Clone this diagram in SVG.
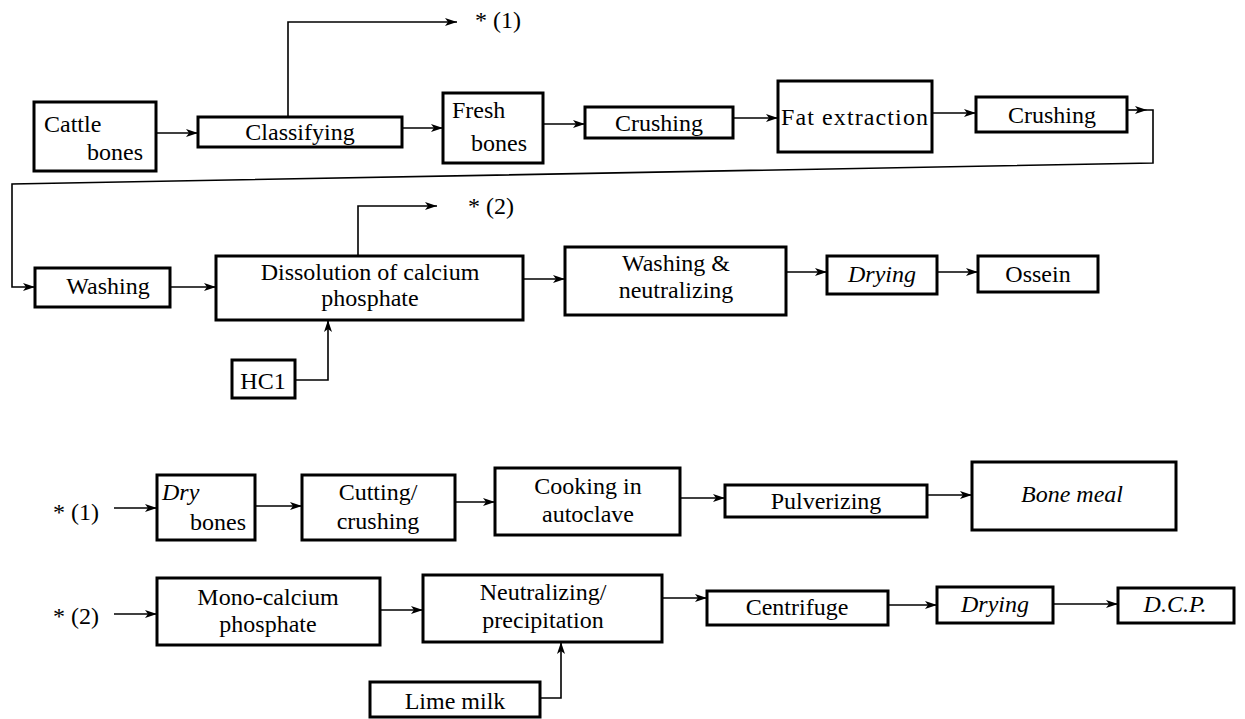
<svg xmlns="http://www.w3.org/2000/svg" width="1245" height="719" viewBox="0 0 1245 719" font-family="Liberation Serif, DejaVu Serif, serif">
<defs>
<marker id="arr" markerUnits="userSpaceOnUse" markerWidth="12" markerHeight="8" refX="12" refY="4" orient="auto">
<path d="M0,0 L12,4 L0,8 L3,4 z" fill="#000"/>
</marker>
<style>
.box{fill:#fff;stroke:#000;stroke-width:3}
.t{font-size:24px;fill:#000}
.c{text-anchor:middle}
.i{font-style:italic}
.ln{fill:none;stroke:#000;stroke-width:1.6}
</style>
</defs>
<rect width="1245" height="719" fill="#fff"/>
<g id="connectors">
<path class="ln" d="M156,133 H198" marker-end="url(#arr)"/>
<path class="ln" d="M288,117 V22 H457" marker-end="url(#arr)"/>
<path class="ln" d="M402,128 H443" marker-end="url(#arr)"/>
<path class="ln" d="M543,124 H585" marker-end="url(#arr)"/>
<path class="ln" d="M733,118 H778" marker-end="url(#arr)"/>
<path class="ln" d="M932,113 H976" marker-end="url(#arr)"/>
<path class="ln" d="M1127,110 H1147" marker-end="url(#arr)"/>
<path class="ln" d="M1147,110 H1153 V163 L12,184 V287 H35" marker-end="url(#arr)"/>
<path class="ln" d="M170,287 H216" marker-end="url(#arr)"/>
<path class="ln" d="M358,256 V206 H437" marker-end="url(#arr)"/>
<path class="ln" d="M295,380 H328 V320" marker-end="url(#arr)"/>
<path class="ln" d="M523,279 H565" marker-end="url(#arr)"/>
<path class="ln" d="M786,272 H827" marker-end="url(#arr)"/>
<path class="ln" d="M937,272 H978" marker-end="url(#arr)"/>
<path class="ln" d="M114,508 H157" marker-end="url(#arr)"/>
<path class="ln" d="M255,506 H302" marker-end="url(#arr)"/>
<path class="ln" d="M455,502 H495" marker-end="url(#arr)"/>
<path class="ln" d="M680,498 H725" marker-end="url(#arr)"/>
<path class="ln" d="M927,495 H972" marker-end="url(#arr)"/>
<path class="ln" d="M114,614 H157" marker-end="url(#arr)"/>
<path class="ln" d="M380,610 H423" marker-end="url(#arr)"/>
<path class="ln" d="M662,598 H707" marker-end="url(#arr)"/>
<path class="ln" d="M888,605 H937" marker-end="url(#arr)"/>
<path class="ln" d="M1053,604 H1118" marker-end="url(#arr)"/>
<path class="ln" d="M540,698 H561 V642" marker-end="url(#arr)"/>
</g>
<g id="ref1a"><text class="t" x="475" y="28">* (1)</text></g>
<g id="ref2a"><text class="t" x="468" y="214">* (2)</text></g>
<g id="ref1b"><text class="t" x="53" y="520">* (1)</text></g>
<g id="ref2b"><text class="t" x="53" y="624">* (2)</text></g>
<g id="cattle"><rect class="box" x="34" y="102" width="122" height="69"/><text class="t" x="44" y="132">Cattle</text><text class="t" x="87" y="160">bones</text></g>
<g id="classifying"><rect class="box" x="198" y="117" width="204" height="30"/><text class="t c" x="300" y="140">Classifying</text></g>
<g id="fresh"><rect class="box" x="443" y="93" width="100" height="70"/><text class="t" x="452" y="118">Fresh</text><text class="t" x="471" y="151">bones</text></g>
<g id="crushing1"><rect class="box" x="585" y="107" width="148" height="31"/><text class="t c" x="659" y="131">Crushing</text></g>
<g id="fat"><rect class="box" x="778" y="81" width="154" height="71"/><text class="t" x="781" y="125" textLength="147">Fat extraction</text></g>
<g id="crushing2"><rect class="box" x="976" y="97" width="151" height="35"/><text class="t c" x="1052" y="123">Crushing</text></g>
<g id="washing"><rect class="box" x="35" y="268" width="135" height="39"/><text class="t c" x="108" y="294">Washing</text></g>
<g id="dissolution"><rect class="box" x="216" y="256" width="307" height="64"/><text class="t c" x="370" y="280">Dissolution of calcium</text><text class="t c" x="370" y="306">phosphate</text></g>
<g id="hcl"><rect class="box" x="232" y="360" width="63" height="38"/><text class="t c" x="263" y="389">HC1</text></g>
<g id="washneut"><rect class="box" x="565" y="247" width="221" height="68"/><text class="t c" x="676" y="271">Washing &amp;</text><text class="t c" x="676" y="298">neutralizing</text></g>
<g id="drying1"><rect class="box" x="827" y="256" width="110" height="38"/><text class="t c i" x="882" y="282">Drying</text></g>
<g id="ossein"><rect class="box" x="978" y="256" width="120" height="36"/><text class="t c" x="1038" y="282">Ossein</text></g>
<g id="drybones"><rect class="box" x="157" y="475" width="98" height="65"/><text class="t i" x="162" y="500">Dry</text><text class="t" x="190" y="530">bones</text></g>
<g id="cutting"><rect class="box" x="302" y="475" width="153" height="65"/><text class="t c" x="378" y="500">Cutting/</text><text class="t c" x="378" y="529">crushing</text></g>
<g id="cooking"><rect class="box" x="495" y="468" width="185" height="67"/><text class="t c" x="588" y="494">Cooking in</text><text class="t c" x="588" y="522">autoclave</text></g>
<g id="pulverizing"><rect class="box" x="725" y="485" width="202" height="32"/><text class="t c" x="826" y="509">Pulverizing</text></g>
<g id="bonemeal"><rect class="box" x="972" y="462" width="204" height="68"/><text class="t c i" x="1072" y="502">Bone meal</text></g>
<g id="mono"><rect class="box" x="157" y="578" width="223" height="67"/><text class="t c" x="268" y="605">Mono-calcium</text><text class="t c" x="268" y="632">phosphate</text></g>
<g id="neutral"><rect class="box" x="423" y="575" width="239" height="67"/><text class="t c" x="543" y="600">Neutralizing/</text><text class="t c" x="543" y="628">precipitation</text></g>
<g id="centrifuge"><rect class="box" x="707" y="591" width="181" height="34"/><text class="t c" x="797" y="615">Centrifuge</text></g>
<g id="drying2"><rect class="box" x="937" y="587" width="116" height="36"/><text class="t c i" x="995" y="612">Drying</text></g>
<g id="dcp"><rect class="box" x="1118" y="588" width="116" height="35"/><text class="t c i" x="1175" y="612">D.C.P.</text></g>
<g id="lime"><rect class="box" x="370" y="682" width="170" height="35"/><text class="t c" x="455" y="709">Lime milk</text></g>
</svg>
